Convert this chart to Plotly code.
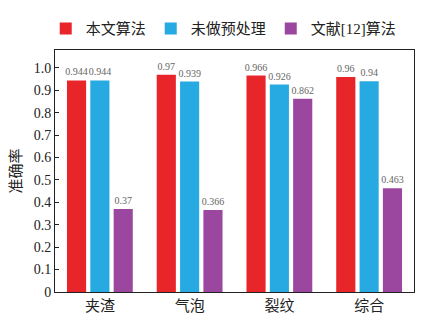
import plotly.graph_objects as go

categories = ["夹渣", "气泡", "裂纹", "综合"]
series_names = ["本文算法", "未做预处理", "文献[12]算法"]
ours = [0.944, 0.97, 0.966, 0.96]
no_pre = [0.944, 0.939, 0.926, 0.94]
ref12 = [0.37, 0.366, 0.862, 0.463]
tick_vals = [0, 0.1, 0.2, 0.3, 0.4, 0.5, 0.6, 0.7, 0.8, 0.9, 1.0]
tick_text = ["0", "0.1", "0.2", "0.3", "0.4", "0.5", "0.6", "0.7", "0.8", "0.9", "1.0"]

colors = ["#e8262a", "#27aae1", "#9b479f"]
serif = "Liberation Serif, Noto Sans CJK SC"

fig = go.Figure()
for name, vals, c in zip(series_names, [ours, no_pre, ref12], colors):
    fig.add_trace(go.Bar(
        x=categories, y=vals, name=name,
        marker=dict(color=c, line=dict(width=0)),
        text=[f"{v:g}" for v in vals], textposition="outside",
        constraintext="none",
        textfont=dict(size=10, color="#666666", family=serif),
        cliponaxis=False,
    ))

fig.update_layout(
    width=433, height=326,
    margin=dict(l=55, r=19, t=46, b=34),
    plot_bgcolor="white", paper_bgcolor="white",
    barmode="group", bargap=0.22, bargroupgap=0.18,
    font=dict(family=serif, color="#222222"),
    legend=dict(orientation="h", x=0.47, xanchor="center", y=1.02, yanchor="bottom",
                font=dict(size=15, family=serif), itemwidth=30,
                traceorder="normal"),
    showlegend=True,
)
fig.update_xaxes(
    showline=True, linecolor="#222222", linewidth=1, mirror=True,
    ticks="", tickfont=dict(size=15, family=serif),
)
fig.update_yaxes(
    range=[0, 1.08], tickvals=tick_vals, ticktext=tick_text,
    showline=True, linecolor="#222222", linewidth=1, mirror=True,
    ticks="inside", ticklen=4, tickcolor="#222222",
    showgrid=False, zeroline=False,
    tickfont=dict(size=14, family=serif),
    title=dict(text="准确率", font=dict(size=15, family=serif), standoff=8),
)
fig.write_html("out.html")
